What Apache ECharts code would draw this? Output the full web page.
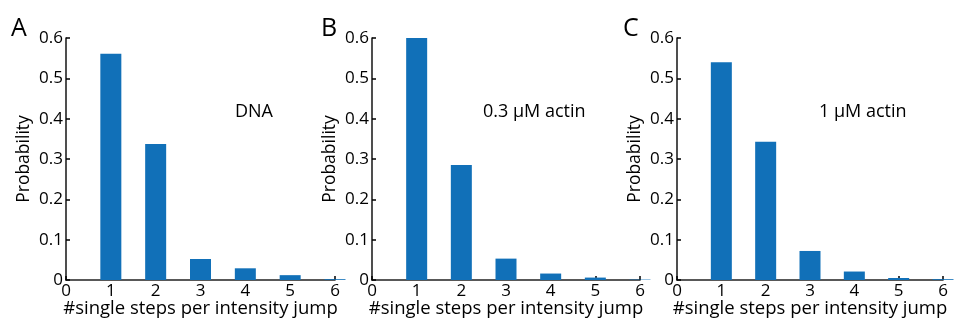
<!DOCTYPE html>
<html>
<head>
<meta charset="utf-8">
<script src="https://cdn.jsdelivr.net/npm/echarts@6/dist/echarts.min.js"></script>
<style>
  html, body { margin: 0; padding: 0; background: #fff; }
  #chart { width: 956px; height: 320px; }
</style>
</head>
<body>
<div id="chart"></div>
<script>
// step counts (x) and probabilities per panel
const steps = [1, 2, 3, 4, 5, 6];
const dnaProb = [0.561, 0.337, 0.052, 0.029, 0.012, 0.002];
const actin03Prob = [0.601, 0.285, 0.053, 0.016, 0.006, 0.001];
const actin1Prob = [0.540, 0.343, 0.072, 0.021, 0.005, 0.002];

const panelLetters = ["A", "B", "C"];
const panelNotes = ["DNA", "0.3 μM actin", "1 μM actin"];
const xName = "#single steps per intensity jump";
const yName = "Probability";

const FONT = "Open Sans";
const BAR = "#1170b8";

// grid placement of each panel
const grids = [
  { left: 66, width: 269 },
  { left: 372, width: 268 },
  { left: 677, width: 266 },
];
const allProb = [dnaProb, actin03Prob, actin1Prob];

const chart = echarts.init(document.getElementById("chart"));

const option = {
  backgroundColor: "#fff",
  animation: false,
  textStyle: { fontFamily: FONT },
  grid: grids.map((g) => ({
    left: g.left,
    width: g.width,
    top: 38,
    bottom: 40,
    containLabel: false,
    outerBoundsMode: "none",
  })),
  xAxis: grids.map((g, i) => ({
    type: "value",
    gridIndex: i,
    min: 0,
    max: 6,
    interval: 1,
    name: xName,
    nameLocation: "middle",
    nameGap: 19,
    nameMoveOverlap: false,
    nameTextStyle: { fontSize: 18.5, color: "#000", fontFamily: FONT },
    axisLine: { show: true, lineStyle: { color: "#222", width: 1.6 } },
    axisTick: { show: true, inside: true, length: 4, lineStyle: { color: "#000", width: 1.5 } },
    axisLabel: { fontSize: 17, color: "#000", margin: 3, fontFamily: FONT },
    splitLine: { show: false },
  })),
  yAxis: grids.map((g, i) => ({
    type: "value",
    gridIndex: i,
    min: 0,
    max: 0.6,
    interval: 0.1,
    name: yName,
    nameLocation: "middle",
    nameGap: 33,
    nameMoveOverlap: false,
    nameTextStyle: { fontSize: 17.5, color: "#000", fontFamily: FONT },
    axisLine: { show: true, lineStyle: { color: "#222", width: 1.6 } },
    axisTick: { show: true, inside: true, length: 4, lineStyle: { color: "#000", width: 1.5 } },
    axisLabel: {
      fontSize: 17,
      color: "#000",
      margin: 3,
      fontFamily: FONT,
      formatter: (v) => (v === 0 ? "0" : v.toFixed(1)),
    },
    splitLine: { show: false },
  })),
  series: allProb.map((vals, i) => ({
    type: "bar",
    xAxisIndex: i,
    yAxisIndex: i,
    barWidth: 21,
    itemStyle: { color: BAR },
    data: steps.map((s, k) => [s, vals[k]]),
    z: 1,
  })),
  graphic: [
    ...panelLetters.map((t, i) => ({
      type: "text",
      left: [11, 321, 623][i],
      top: 16,
      style: { text: t, fontSize: 25, fontFamily: FONT, fill: "#000" },
    })),
    ...panelNotes.map((t, i) => ({
      type: "text",
      left: [235, 483, 819][i],
      top: 103,
      style: { text: t, fontSize: 18, fontFamily: FONT, fill: "#000" },
    })),
  ],
};

chart.setOption(option);
</script>
</body>
</html>
